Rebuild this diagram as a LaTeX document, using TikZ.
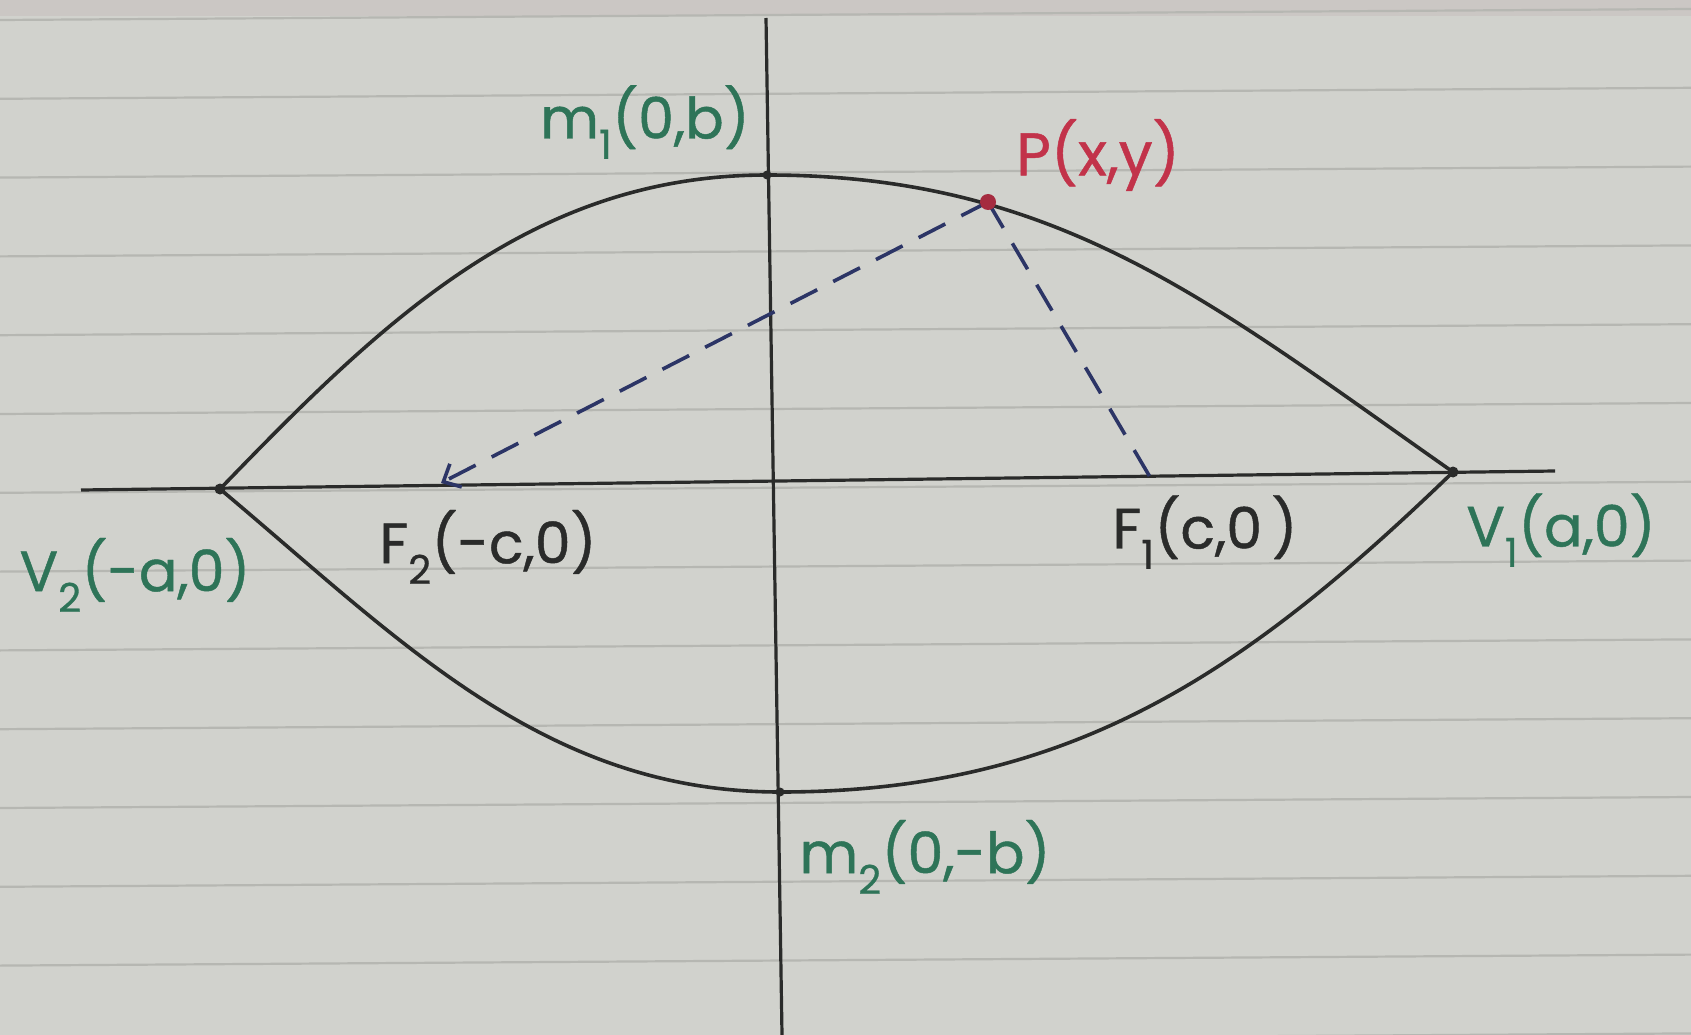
\documentclass[tikz,border=0pt]{standalone}
\usepackage{fontspec}
\setmainfont{Poppins}
\usetikzlibrary{arrows.meta}
\definecolor{paper}{HTML}{D1D2CD}
\definecolor{paperline}{HTML}{B6B7B2}
\definecolor{topband}{HTML}{CBC7C4}
\definecolor{ink}{HTML}{2A2B2A}
\definecolor{greenink}{HTML}{2E7458}
\definecolor{redink}{HTML}{C2334A}
\definecolor{blueink}{HTML}{2C3566}
\tikzset{
  curve/.style={draw=ink, line width=3.6pt},
  axis/.style={draw=ink, line width=3.2pt},
  dashline/.style={draw=blueink, line width=3.6pt, dash pattern=on 30pt off 18pt},
  lbl/.style={inner sep=0pt, font=\fontsize{57}{62}\selectfont\addfontfeatures{FakeBold=0.8}},
  dot/.style={circle, fill=ink, inner sep=0pt, minimum size=11pt},
}
\begin{document}
\begin{tikzpicture}[x=1pt,y=-1pt]
\fill[paper] (0,0) rectangle (1691,1035);
\useasboundingbox (0,0) rectangle (1691,1035);
\fill[topband] (0,0) rectangle (1691,16);
% ruled lines of the notebook paper
\foreach \k in {0,...,13}{
  \draw[paperline, line width=2.2pt] (0,{20+78.8*\k}) -- (1691,{9+78.8*\k});
}
% key points
\coordinate (V2) at (220,489);
\coordinate (V1) at (1453,472);
\coordinate (M1) at (767,175);
\coordinate (M2) at (780,792);
\coordinate (P) at (988,202);
\coordinate (F1) at (1150,477);
\coordinate (F2) at (441,483);
\coordinate (XL) at (81,490);
\coordinate (XR) at (1555,471);
\coordinate (YT) at (766,18);
\coordinate (YB) at (782,1035);
% axes
\draw[axis] (XL) -- (XR);
\draw[axis] (YT) -- (YB);
% curve
\draw[curve] (V2) to[out=46,in=180,looseness=0.95] (M1) to[out=0,in=145,looseness=1.0] (V1);
\draw[curve] (V2) to[out=-40,in=180,looseness=0.95] (M2) to[out=0,in=-136,looseness=1.0] (V1);
% dashed focal radii
\draw[dashline, -{Straight Barb[length=14pt,width=26pt]}] (P) -- (F2);
\draw[dashline] (P) -- (F1);
% points
\node[dot] (dV2) at (V2) {};
\node[dot] (dV1) at (V1) {};
\node[dot, minimum size=9pt] (dM1) at (M1) {};
\node[dot, minimum size=9pt] (dM2) at (M2) {};
\node[dot, fill=redink!85!black, minimum size=16pt] (dP) at (P) {};
% labels
\node[lbl, text=greenink] (lM1) at (645,122) {m\textsubscript{1}(0,b)};
\node[lbl, text=redink, font=\fontsize{60}{64}\selectfont\addfontfeatures{FakeBold=0.8}] (lP) at (1098,155) {P(x,y)};
\node[lbl, text=greenink] (lV2) at (135,575) {V\textsubscript{2}(-a,0)};
\node[lbl, text=ink] (lF2) at (488,547) {F\textsubscript{2}(-c,0)};
\node[lbl, text=ink] (lF1) at (1205,532) {F\textsubscript{1}(c,0\,)};
\node[lbl, text=greenink] (lV1) at (1561,530) {V\textsubscript{1}(a,0)};
\node[lbl, text=greenink] (lM2) at (925,857) {m\textsubscript{2}(0,-b)};
\end{tikzpicture}
\end{document}
